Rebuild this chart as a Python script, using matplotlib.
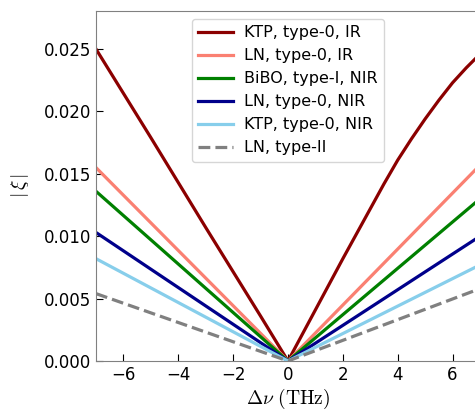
import numpy as np
import matplotlib
matplotlib.use('Agg')
import matplotlib.pyplot as plt

plt.rcParams['mathtext.fontset'] = 'cm'

# detuning (THz) and |xi|
x_lin = [-7, 0, 7]
ln_ir = [0.0155, 0.0, 0.0157]
bibo_nir = [0.0136, 0.0, 0.0130]
ln_nir = [0.0103, 0.0, 0.0100]
ktp_nir = [0.0082, 0.0, 0.0077]
ln_ii = [0.0054, 0.0, 0.0058]

x_ktp = [-7, -5, -3, -1, 0, 1, 2, 3, 3.5, 4, 4.5, 5, 5.5, 6, 6.5, 7]
ktp_ir = [0.0250, 0.0179, 0.0107, 0.0036, 0.0, 0.0041, 0.0082, 0.0122,
          0.0142, 0.0161, 0.0178, 0.0194, 0.0209, 0.0223, 0.0235, 0.0246]

labels = ['KTP, type-0, IR', 'LN, type-0, IR', 'BiBO, type-I, NIR',
          'LN, type-0, NIR', 'KTP, type-0, NIR', 'LN, type-II']

fig = plt.figure(figsize=(4.75, 4.13), dpi=100)
ax = fig.add_axes([96/475, 1 - 361/413, 384/475, 350/413])

lw = 2.3
ax.plot(x_ktp, ktp_ir, color='darkred', lw=lw, label=labels[0])
ax.plot(x_lin, ln_ir, color='salmon', lw=lw, label=labels[1])
ax.plot(x_lin, bibo_nir, color='green', lw=lw, label=labels[2])
ax.plot(x_lin, ln_nir, color='darkblue', lw=lw, label=labels[3])
ax.plot(x_lin, ktp_nir, color='skyblue', lw=lw, label=labels[4])
ax.plot(x_lin, ln_ii, color='gray', lw=lw, ls='--', label=labels[5])

ax.set_xlim(-7, 7)
ax.set_ylim(0, 0.02805)
ax.set_xticks([-6, -4, -2, 0, 2, 4, 6])
ax.set_yticks([0, 0.005, 0.01, 0.015, 0.02, 0.025])
ax.yaxis.set_major_formatter(matplotlib.ticker.FormatStrFormatter('%.3f'))
ax.tick_params(direction='in', labelsize=12, length=5)
for s in ax.spines.values():
    s.set_color('gray')

ax.set_xlabel(r'$\Delta\nu\ (\mathrm{THz})$', fontsize=14, labelpad=2)
ax.set_ylabel(r'$|\,\xi\,|$', fontsize=14, labelpad=9)

ax.legend(loc='upper center', bbox_to_anchor=(0.5, 0.977), fontsize=11.5,
          handlelength=2.2, handletextpad=0.7, borderpad=0.4,
          borderaxespad=0)

fig.savefig('out.png', dpi=100)
